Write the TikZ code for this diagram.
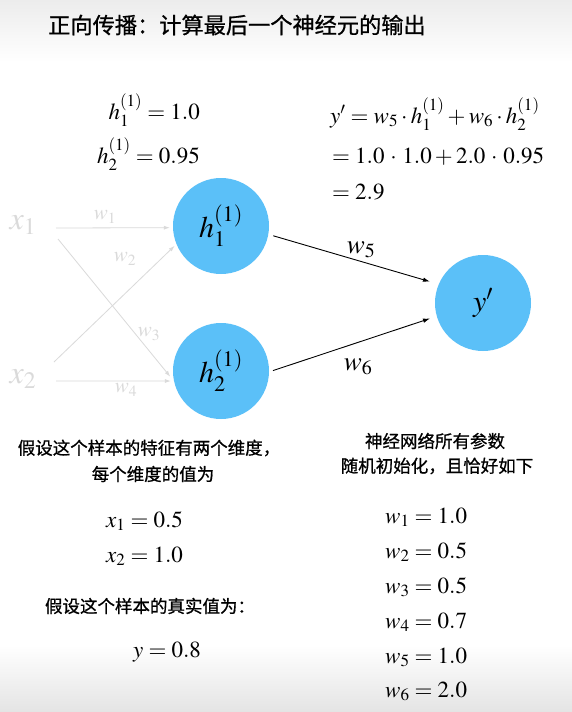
\documentclass[tikz,border=0pt]{standalone}
\usepackage{mathptmx}
\usepackage[no-math]{fontspec}
\newfontfamily\cjk[FakeBold=0.8]{Noto Sans CJK SC}
\usetikzlibrary{arrows.meta}
\definecolor{nodeblue}{RGB}{91,192,248}
\definecolor{faded}{RGB}{218,218,218}
\definecolor{bgtop}{RGB}{236,236,236}
\definecolor{bgbot}{RGB}{228,228,228}
\tikzset{
  neuron/.style={circle, fill=nodeblue, minimum size=96pt, inner sep=0pt, font=\fontsize{30}{36}\selectfont},
  inlab/.style={text=faded, inner sep=0pt, font=\fontsize{32}{38}\selectfont},
  fwlab/.style={text=faded, inner sep=0pt, font=\fontsize{21}{25}\selectfont},
  bwlab/.style={text=black, inner sep=0pt, font=\fontsize{27}{32}\selectfont},
  formula/.style={inner sep=0pt, font=\fontsize{23}{27}\selectfont},
  cjktext/.style={inner sep=0pt, font=\cjk\fontsize{17.5}{21}\selectfont},
  titletext/.style={inner sep=0pt, font=\cjk\fontsize{22.2}{27}\selectfont},
  farrow/.style={draw=faded, line width=0.8pt, -{Latex[length=6pt,width=4pt]}},
  barrow/.style={draw=black, line width=0.9pt, -{Latex[length=7pt,width=4.5pt]}}
}
\begin{document}
\begin{tikzpicture}[x=1pt,y=-1pt]
\useasboundingbox (0,0) rectangle (572,712);
\fill[white] (0,0) rectangle (572,712);
\shade[top color=bgtop, bottom color=white] (0,0) rectangle (572,62);
\shade[top color=white, bottom color=bgbot] (0,645) rectangle (572,712);

% title
\node[titletext] (title) at (237,25) {正向传播：计算最后一个神经元的输出};

% neurons
\node[neuron] (h1) at (221,226) {$h_1^{(1)}$};
\node[neuron] (h2) at (221,371) {$h_2^{(1)}$};
\node[neuron] (y) at (483,303) {$y^{\prime}$};

% faded inputs
\node[inlab] (x1) at (23,225) {$x_1$};
\node[inlab] (x2) at (23,379) {$x_2$};

\draw[farrow] ([xshift=33pt,yshift=-3pt]x1.center) -- ([xshift=-3pt]h1.182);
\draw[farrow] ([xshift=35pt,yshift=-14pt]x1.center) -- ([xshift=-3pt,yshift=1pt]h2.188);
\draw[farrow] ([xshift=31pt,yshift=17pt]x2.center) -- ([xshift=-2pt,yshift=-1pt]h1.203);
\draw[farrow] ([xshift=33pt,yshift=-2pt]x2.center) -- ([xshift=-3pt]h2.192);

\node[fwlab] (w1) at (105,217) {$w_1$};
\node[fwlab] (w2) at (125,259) {$w_2$};
\node[fwlab] (w3) at (149,334) {$w_3$};
\node[fwlab] (w4) at (126,390) {$w_4$};

% output connections
\draw[barrow, shorten <=5pt, shorten >=9pt] (h1.-10) -- (y.157);
\draw[barrow, shorten <=4pt, shorten >=7pt] (h2.-1) -- (y.196.5);
\node[bwlab] (w5) at (361,250) {$w_5$};
\node[bwlab] (w6) at (358,367) {$w_6$};

% hidden values
\node[formula, anchor=base east] (hv1) at (200,119) {$h_1^{(1)} = 1.0$};
\node[formula, anchor=base east] (hv2) at (200,163) {$h_2^{(1)} = 0.95$};

% output formula
\node[formula, anchor=base west] (f1) at (330,123) {$y^{\prime} = w_5 \cdot h_1^{(1)} + w_6 \cdot h_2^{(1)}$};
\node[formula, anchor=base west] (f2) at (332,163) {$= 1.0 \,\cdot\, 1.0 + 2.0 \,\cdot\, 0.95$};
\node[formula, anchor=base west] (f3) at (332,199) {$= 2.9$};

% left bottom text
\node[cjktext] (t1) at (149,448) {假设这个样本的特征有两个维度，};
\node[cjktext] (t2) at (153,474) {每个维度的值为};
\node[formula, anchor=base west] (xv1) at (106,527) {$x_1 = 0.5$};
\node[formula, anchor=base west] (xv2) at (106,562) {$x_2 = 1.0$};
\node[cjktext] (t3) at (150,606) {假设这个样本的真实值为：};
\node[formula, anchor=base west] (yv) at (133,657) {$y = 0.8$};

% right bottom text
\node[cjktext] (t4) at (435,441) {神经网络所有参数};
\node[cjktext] (t5) at (437,466) {随机初始化，且恰好如下};
\node[formula, anchor=base west] (wv1) at (385,523) {$w_1 = 1.0$};
\node[formula, anchor=base west] (wv2) at (385,558) {$w_2 = 0.5$};
\node[formula, anchor=base west] (wv3) at (385,593) {$w_3 = 0.5$};
\node[formula, anchor=base west] (wv4) at (385,628) {$w_4 = 0.7$};
\node[formula, anchor=base west] (wv5) at (385,663) {$w_5 = 1.0$};
\node[formula, anchor=base west] (wv6) at (385,697) {$w_6 = 2.0$};
\end{tikzpicture}
\end{document}
